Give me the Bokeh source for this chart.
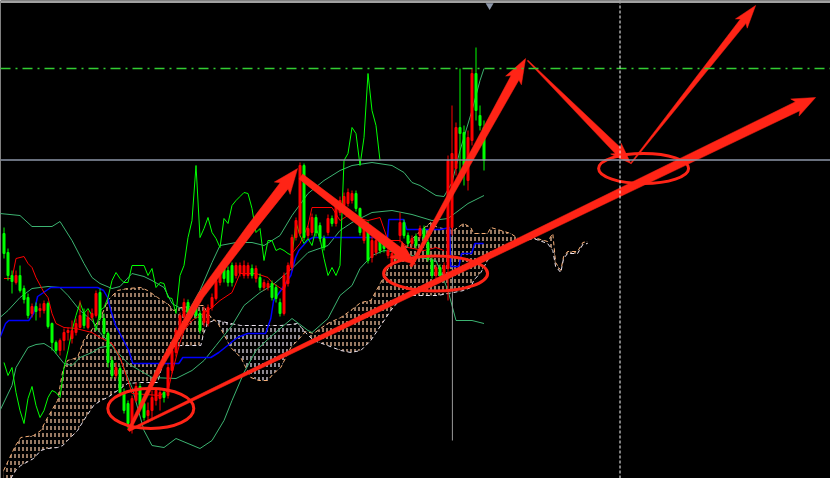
import numpy as np
from bokeh.plotting import figure
from bokeh.models import Range1d, Span
from bokeh.embed import file_html
from bokeh.resources import INLINE

# ---------------- candle data (price units) ----------------
opens = [245,226,203,196,203,190,181,165,172,168,
         168,175,155,136,128,138,146,140,146,151,
         165,151,161,163,186,160,145,118,103,110,
         86,75,56,78,92,75,63,68,78,80,
         86,83,108,126,146,162,176,165,170,165,
         156,155,171,180,196,210,208,213,203,205,
         203,203,210,200,201,191,191,195,191,176,
         165,195,211,241,245,313,243,246,261,253,
         240,246,260,255,266,273,275,278,285,270,
         238,253,221,226,240,236,223,215,228,243,
         256,243,235,242,243,250,236,218,203,211,
         205,210,251,310,351,346,298,338,405,363,
         351]
closes = [225,203,197,203,188,179,163,172,167,170,
          175,152,136,128,138,146,148,148,155,163,
          153,161,165,185,161,145,116,103,111,86,
          68,55,80,92,73,61,68,81,88,86,
          81,111,128,148,163,176,165,170,163,148,
          168,171,181,198,206,200,196,196,213,213,
          213,213,203,210,191,196,195,181,180,165,
          203,213,241,258,313,241,250,261,246,240,
          231,260,255,273,278,282,286,285,270,246,
          250,218,238,238,228,230,228,225,223,256,
          243,235,240,233,250,240,220,203,211,203,
          213,318,325,351,345,313,341,405,368,353,
          318]
highs = [251,230,208,208,213,193,185,175,176,175,
         178,177,156,138,140,150,151,158,160,178,
         170,168,170,188,190,165,147,122,116,113,
         90,78,83,96,95,78,76,88,91,90,
         90,115,133,151,166,180,179,174,173,168,
         172,174,185,202,210,214,212,216,216,216,
         218,216,214,213,205,199,198,198,194,180,
         206,216,244,261,316,315,253,265,264,256,
         243,264,263,277,282,286,290,288,288,271,
         254,257,242,242,243,240,232,228,232,266,
         259,246,243,245,253,253,239,221,214,214,
         216,323,373,356,410,353,348,410,431,373,
         358]
lows = [220,198,185,194,186,175,160,161,158,161,
        165,150,128,125,123,128,138,135,143,150,
        150,149,158,161,158,141,111,100,100,82,
        65,50,45,76,70,58,56,58,73,68,
        76,80,105,122,143,160,160,162,160,145,
        152,152,168,178,193,196,192,192,200,202,
        200,200,200,196,188,188,188,178,176,162,
        163,192,208,238,242,238,240,243,242,237,
        228,243,252,252,263,270,272,275,267,243,
        235,215,216,223,225,226,220,212,218,236,
        240,232,232,230,240,237,217,200,200,200,
        202,178,243,303,305,293,288,333,358,348,
        308]
bars = list(range(len(opens)))

# ---------------- indicator lines ----------------
kijun_x = [-1,0.4,1.2,6.2,7.4,8.4,9.9,11.7,23.4,24.9,25.9,26.7,27.9,29.9,31.2,32.2,43.7,44.7,
           51.7,53.7,55.9,57.4,58.4,60.9,65.4,66.7,67.4,69.2,71.7,72.9,73.7,75.9,77.2,95.9,96.2,
           99.9,100.7,109.2,111.4,111.7,113.7,114.4,116.9,117.7,119.9]
kijun_y = [141,155,158,158,165,182,186,191,191,188,181,168,153,138,128,115,115,121,
           121,126,133,138,141,145,145,160,178,188,203,221,228,238,241,241,259,
           259,249,249,251,212,212,225,225,235,235]

tenkan_x = [0,2,3,5,6,7,8,10,11,12,13,15,18,22,24,27,29,31,32,39,41,42,44,45,47,49,52,54,57,
            59,63,66,67,70,71,72,74,76,77,82,84,86,91,94,96,99,101,105,108,110]
tenkan_y = [200,200,220,222,215,211,201,186,181,165,155,151,150,146,141,135,121,98,85,83,88,105,136,148,158,163,171,178,186,
            205,205,201,196,188,201,225,235,253,271,271,258,263,258,261,238,238,231,228,231,228]

bb_up_x = [-1,4,7,12,14,17,20,22,24,27,29,32,35,37,40,42,46,49,52,54,58,62,65,69,72,76,80,84,87,92,97,100,102,104,108,110,112,114,117,119,120]
bb_up_y = [265,263,252,252,257,238,215,201,195,190,192,205,202,198,191,175,166,188,216,233,236,236,233,243,263,285,298,308,313,316,313,306,296,293,283,282,296,328,368,398,410]
bb_mid_x = [-1,1,4,7,11,14,16,17,19,22,24,28,31,37,43,47,50,53,57,60,64,67,72,76,81,84,87,92,97,102,107,111,113,116,120]
bb_mid_y = [161,168,181,190,192,191,183,178,168,158,146,128,115,101,100,108,118,133,153,173,186,193,210,226,233,248,256,266,268,264,258,260,266,275,283]
bb_lo_x = [-1,2,3,6,8,10,12,15,17,19,22,24,27,29,32,35,37,40,43,46,49,52,55,57,60,63,67,72,76,77,81,84,87,89,92,95,99,104,108,111,113,117,120]
bb_lo_y = [68,93,111,131,134,135,130,115,113,121,126,131,133,120,91,48,33,31,40,35,30,38,58,78,106,128,143,160,148,146,160,183,193,210,223,228,226,221,218,188,158,158,155]

# Ichimoku cloud spans (shifted 26 bars ahead)
span_x = [-0.1,2.9,4.2,7.4,9.2,10.9,13.4,14.7,15.9,18.4,19.9,22.4,24.2,25.9,28.4,30.9,34.2,35.9,38.4,39.9,
          40.9,42.4,44.2,49.2,49.9,50.9,52.4,53.4,56.7,59.2,61.7,63.7,65.9,67.4,69.2,71.7,73.4,75.4,77.4,
          80.9,84.2,86.7,89.2,91.7,94.2,96.7,99.2,101.7,104.2,106.7,108.4,112.4,114.9,116.7,117.4,119.2,
          120.9,121.7,124.2,126.7,129.2,132.4,135.9,137.2,137.9,139.2,139.9,140.9,143.4,144.7,145.9]
span_a = [8,33,41,43,48,61,78,108,118,121,138,151,161,178,188,190,191,188,181,177,
          175,168,171,173,173,165,159,156,131,121,101,98,98,105,111,131,138,147,145,
          155,161,168,176,178,196,215,226,238,248,256,251,248,255,251,245,245,
          245,251,248,245,238,241,237,245,216,208,222,227,227,236,237]
span_b = [-12,8,13,20,28,30,31,33,38,48,58,73,78,81,88,95,96,96,96,118,
          126,132,133,133,145,155,158,158,155,153,153,153,153,153,153,154,155,146,138,
          133,128,126,128,138,153,168,180,183,183,183,183,186,188,191,198,206,
          218,226,230,233,237,240,235,228,212,206,220,225,225,234,235]

# drawn objects
arrows = [
    dict(pts=[(31.2,48),(39.2,113),(49.2,183),(61.7,250),(73.4,310)], w0=3, w1=10, hl=22, hw=20),
    dict(pts=[(74.2,302),(102.9,214)], w0=6, w1=9, hl=22, hw=20),
    dict(pts=[(101.7,212),(130.4,420)], w0=3, w1=9, hl=22, hw=18),
    dict(pts=[(130.9,418),(156.7,315)], w0=1, w1=8, hl=18, hw=15),
    dict(pts=[(156.7,315),(187.9,473)], w0=1, w1=7, hl=20, hw=15),
    dict(pts=[(31.2,48),(202.9,381)], w0=2, w1=10, hl=20, hw=19),
]
ell_x = [36.7, 107.9, 159.9]
ell_y = [70, 205, 310]
ell_w = [21.5, 26, 22.5]
ell_h = [40, 35, 30]
resistance_level = 410
price_line = 318.5
time_line_bar = 154.0
separator_bar = 112.1
separator_from, separator_to = 38, 308
top_border = 476.5
shift_marker = (121.4, 473)

RED = "#ff0000"
GREEN = "#00ff00"
ARROW = "#ff2416"
SEA = "#3cb371"
PEACH = "#f8b078"
PEACH_HATCH = "#ffcca6"
THISTLE = "#ece4f0"

XS = 4.0  # pixels per bar

p = figure(width=830, height=478, x_range=Range1d(-0.875, 206.625), y_range=Range1d(0, 478),
           output_backend="svg", toolbar_location=None, min_border=0,
           x_axis_location=None, y_axis_location=None)
p.background_fill_color = "black"
p.border_fill_color = "black"
p.outline_line_color = None
p.grid.visible = False

# cloud hatch: vertical lines, then cut into dashes by black horizontal bands
sa = np.array(span_a, float); sb = np.array(span_b, float)
top = np.maximum(sa, sb); bot = np.minimum(sa, sb)
p.varea(x=span_x, y1=sb, y2=top, fill_alpha=0, hatch_pattern="|", hatch_color=PEACH_HATCH,
        hatch_scale=4, hatch_weight=1.2)
p.varea(x=span_x, y1=sa, y2=top, fill_alpha=0, hatch_pattern="|", hatch_color=THISTLE,
        hatch_scale=4, hatch_weight=1.2)
p.varea(x=span_x, y1=bot, y2=top, fill_alpha=0, hatch_pattern="-", hatch_color="black",
        hatch_scale=7, hatch_weight=3)
p.line(span_x, span_a, line_color=PEACH, line_dash="4 3", line_width=1)
p.line(span_x, span_b, line_color=THISTLE, line_dash="4 3", line_width=1)

# bollinger
for xs, ys in ((bb_up_x, bb_up_y), (bb_mid_x, bb_mid_y), (bb_lo_x, bb_lo_y)):
    p.line(xs, ys, line_color=SEA, line_width=1)

p.add_layout(Span(location=resistance_level, dimension="width", line_color="#32cd32",
                  line_dash="10 5 2 5", line_width=1.5))
p.add_layout(Span(location=price_line, dimension="width", line_color="#8c96a8", line_width=1.5))
p.add_layout(Span(location=time_line_bar, dimension="height", line_color="white",
                  line_dash="3 2", line_width=1))
p.add_layout(Span(location=top_border, dimension="width", line_color="#a0a0a0", line_width=2))
p.segment(x0=[separator_bar], y0=[separator_from], x1=[separator_bar], y1=[separator_to],
          line_color="#9a9a9a", line_width=1)
p.scatter([shift_marker[0]], [shift_marker[1]], marker="inverted_triangle", size=8,
          fill_color="#8c96a8", line_color=None)

p.line(kijun_x, kijun_y, line_color="#0000ff", line_width=1.5)
p.line(tenkan_x, tenkan_y, line_color=RED, line_width=1)
# chikou span: closes plotted 26 bars back
p.line(bars[:len(bars) - 26], closes[26:], line_color=GREEN, line_width=1)

# candles
o = np.array(opens); c = np.array(closes)
cols = [RED if cc > oo else GREEN for oo, cc in zip(opens, closes)]
p.segment(x0=bars, y0=lows, x1=bars, y1=highs, line_color=cols, line_width=1)
p.vbar(x=bars, width=0.5, top=np.maximum(o, c), bottom=np.minimum(o, c),
       fill_color=cols, line_color=cols, line_width=1)


# arrows
def arrow_polygon(pts, w0, w1, hl, hw):
    P = np.array([[x * XS, y] for x, y in pts], float)
    seg = np.diff(P, axis=0)
    L = np.hypot(seg[:, 0], seg[:, 1])
    cum = np.concatenate([[0], np.cumsum(L)])
    send = cum[-1] - hl
    verts, dists = [], []
    for k in range(len(P) - 1):
        if cum[k] < send:
            verts.append(P[k]); dists.append(cum[k])
    k = np.searchsorted(cum, send) - 1
    t = (send - cum[k]) / L[k]
    base = P[k] + t * seg[k]
    verts.append(base); dists.append(send)
    verts = np.array(verts)
    d_last = (P[-1] - base) / np.hypot(*(P[-1] - base))
    left, right = [], []
    for j, v in enumerate(verts):
        if j == 0:
            d = verts[1] - verts[0]
        elif j == len(verts) - 1:
            d = d_last
        else:
            d = verts[j + 1] - verts[j - 1]
        d = d / np.hypot(*d)
        n = np.array([-d[1], d[0]])
        w = w0 + (w1 - w0) * dists[j] / send
        left.append(v + n * w / 2); right.append(v - n * w / 2)
    n = np.array([-d_last[1], d_last[0]])
    back = base - d_last * 3
    poly = np.array(left + [back + n * hw / 2, P[-1], back - n * hw / 2] + right[::-1])
    return list(poly[:, 0] / XS), list(poly[:, 1])


axs, ays = [], []
for a in arrows:
    xx, yy = arrow_polygon(a["pts"], a["w0"], a["w1"], a["hl"], a["hw"])
    axs.append(xx); ays.append(yy)
p.patches(axs, ays, fill_color=ARROW, line_color=ARROW, line_width=0.5)

p.ellipse(x=ell_x, y=ell_y, width=ell_w, height=ell_h, fill_color=None,
          line_color=ARROW, line_width=3)

open("out.html", "w").write(file_html(p, INLINE))
